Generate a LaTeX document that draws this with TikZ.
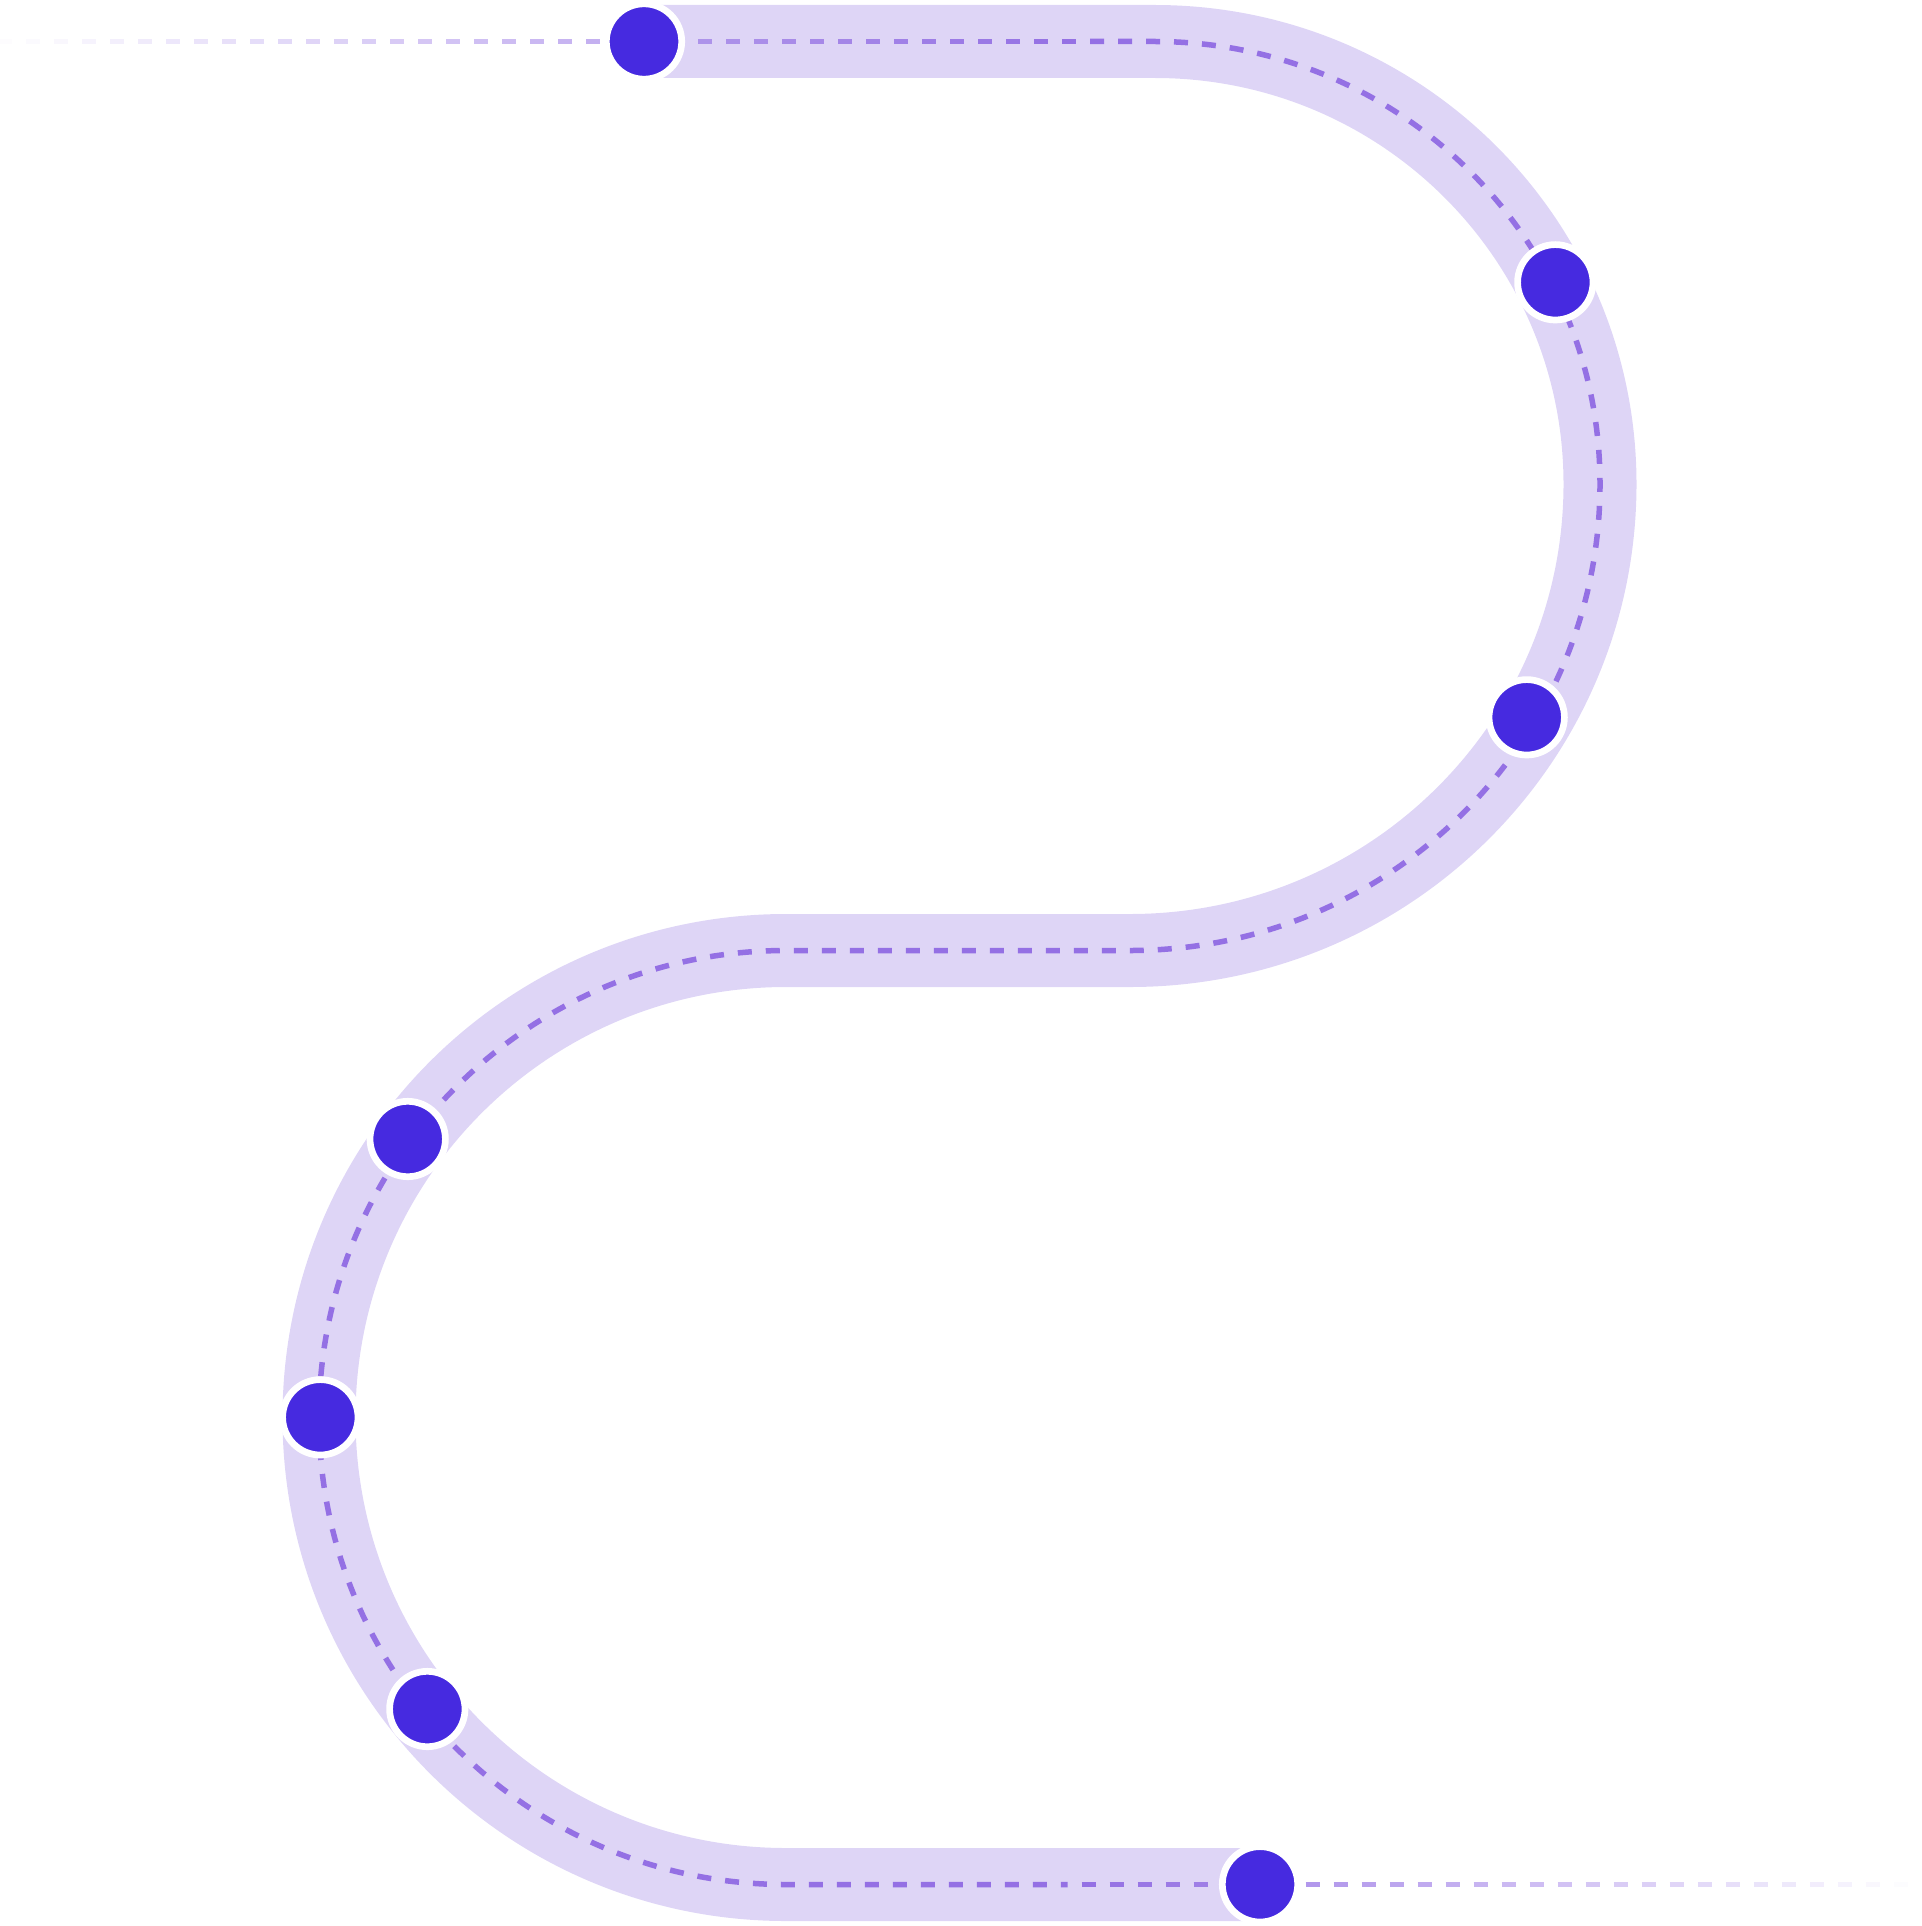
\documentclass[tikz,border=0pt]{standalone}
\usepackage{tikz}
\definecolor{bandc}{RGB}{222,213,246}
\definecolor{dashc}{RGB}{148,112,228}
\definecolor{dotc}{RGB}{70,42,224}
\begin{document}
\begin{tikzpicture}[x=0.5pt,y=-0.5pt,
 bandline/.style={draw=bandc,line width=36.5pt},
 dashline/.style={draw=dashc,line width=2.75pt,dash pattern=on 7pt off 7pt},
 fadedash/.style={draw=dashc,line width=2.75pt},
 stopdot/.style={circle,fill=dotc,draw=white,line width=3.35pt,minimum size=37.7pt,inner sep=0pt}]
\useasboundingbox (0,0) rectangle (1921,1926);
% band
\draw[bandline] (644,41.5) -- (1155,41.5)
  arc[start angle=-90,end angle=0,x radius=445,y radius=442.5]
  arc[start angle=0,end angle=90,x radius=470,y radius=466.5]
  -- (786,950.5)
  arc[start angle=270,end angle=90,radius=467]
  -- (1260,1884.5);
% dashed centre line
\draw[dashline] (1090,41.5) -- (1155,41.5)
  arc[start angle=-90,end angle=0,x radius=445,y radius=442.5]
  arc[start angle=0,end angle=90,x radius=470,y radius=466.5]
  -- (786,950.5)
  arc[start angle=270,end angle=90,radius=467]
  -- (1067.6,1884.5);
% fading dashes, top
\foreach \k in {0,...,38}{
  \pgfmathsetmacro\xa{28*\k-2}
  \pgfmathsetmacro\op{min(1,max(0.02,(\xa+12)/1090))}
  \draw[fadedash,draw opacity=\op] (\xa,41.5) -- ++(14,0);
}
% fading dashes, bottom
\foreach \k in {0,...,29}{
  \pgfmathsetmacro\xa{1081.6+28*\k}
  \pgfmathsetmacro\op{min(1,max(0.02,(1921-\xa-7)/841))}
  \draw[fadedash,draw opacity=\op] (\xa,1884.5) -- ++(14,0);
}
% stops
\node[stopdot] (n1) at (644,41.5) {};
\node[stopdot] (n2) at (1555.3,282.3) {};
\node[stopdot] (n3) at (1526.7,717.3) {};
\node[stopdot] (n4) at (407.7,1139) {};
\node[stopdot] (n5) at (320.3,1417.3) {};
\node[stopdot] (n6) at (427.3,1709) {};
\node[stopdot] (n7) at (1260,1884.3) {};
\end{tikzpicture}
\end{document}
